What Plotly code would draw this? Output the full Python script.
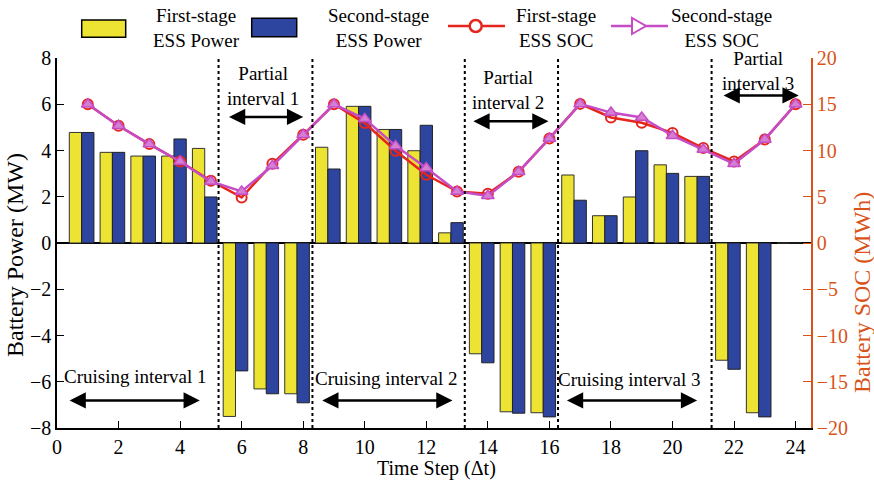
import plotly.graph_objects as go

# ---------------- data ----------------
time_steps = list(range(1, 25))
power_first = [4.78, 3.92, 3.76, 3.76, 4.09, -7.50, -6.31, -6.52, 4.14, 5.91, 4.91, 3.99,
               0.44, -4.79, -7.30, -7.34, 2.94, 1.18, 1.99, 3.38, 2.88, -5.07, -7.34, 0]
power_second = [4.78, 3.92, 3.76, 4.50, 1.99, -5.53, -6.52, -6.91, 3.20, 5.91, 4.91, 5.09,
                0.88, -5.18, -7.36, -7.52, 1.85, 1.18, 3.99, 3.01, 2.88, -5.46, -7.52, 0]
soc_first = [15.0, 12.67, 10.69, 8.81, 6.73, 4.93, 8.56, 11.7, 15.0, 12.96, 9.97, 7.38,
             5.58, 5.32, 7.7, 11.3, 15.04, 13.57, 13.0, 11.9, 10.26, 8.81, 11.2, 15.0]
soc_second = [15.0, 12.67, 10.69, 8.81, 6.65, 5.58, 8.35, 11.7, 15.0, 13.42, 10.5, 8.1,
              5.58, 5.1, 7.7, 11.3, 15.04, 14.1, 13.57, 11.6, 10.1, 8.56, 11.2, 15.0]
x_ticks = list(range(0, 25, 2))
left_ticks = list(range(-8, 9, 2))
right_ticks = list(range(-20, 21, 5))
boundaries = [5.25, 8.3, 13.25, 16.28, 21.27]
partial_labels = ["Partial<br>interval 1", "Partial<br>interval 2", "Partial<br>interval 3"]
cruise_labels = ["Cruising interval 1", "Cruising interval 2", "Cruising interval 3"]
legend_labels = ["First-stage<br>ESS Power", "Second-stage<br>ESS Power",
                 "First-stage<br>ESS SOC", "Second-stage<br>ESS SOC"]

# ---------------- style ----------------
FONT = "Liberation Serif, Times New Roman, serif"
YELLOW = "#ECE332"
BLUE = "#2E45A0"
RED = "#E5261E"
MAGENTA = "#C64CC6"
ORANGE = "#D95319"

W, H = 874, 485
L, R, T, B = 57, 63, 58, 57
PW, PH = W - L - R, H - T - B


def px(x):
    return (x - L) / PW


def py(y):
    return (H - B - y) / PH


fig = go.Figure()

bar_x = [k - 0.2 for k in time_steps]
fig.add_trace(go.Bar(x=bar_x, y=power_first, marker=dict(color=YELLOW, line=dict(color="#333333", width=1)),
                     showlegend=False, name="First-stage ESS Power"))
fig.add_trace(go.Bar(x=bar_x, y=power_second, marker=dict(color=BLUE, line=dict(color="#222222", width=1)),
                     showlegend=False, name="Second-stage ESS Power"))
fig.add_trace(go.Scatter(x=time_steps, y=soc_first, yaxis="y2", mode="lines+markers",
                         line=dict(color=RED, width=2.5),
                         marker=dict(symbol="circle-open", size=10, color=RED, line=dict(width=2)),
                         showlegend=False, name="First-stage ESS SOC"))
fig.add_trace(go.Scatter(x=time_steps, y=soc_second, yaxis="y2", mode="lines+markers",
                         line=dict(color=MAGENTA, width=2.5),
                         marker=dict(symbol="triangle-up", size=11, color="#D47ED4",
                                     line=dict(color=MAGENTA, width=1.5)),
                         showlegend=False, name="Second-stage ESS SOC"))

shapes = []
for b in boundaries:
    shapes.append(dict(type="line", xref="x", yref="paper", x0=b, x1=b, y0=0, y1=1,
                       line=dict(color="black", width=2, dash="dot")))

annotations = []
partial_text_pos = [(6.70, 6.77), (14.67, 6.61), (22.79, 7.42)]
partial_arrows = [(5.54, 8.00, 5.45), (13.48, 15.97, 5.26), (21.61, 24.1, 6.38)]
for lab, (tx, ty) in zip(partial_labels, partial_text_pos):
    annotations.append(dict(x=tx, y=ty, xref="x", yref="y", text=lab, showarrow=False,
                            xanchor="center", yanchor="middle",
                            font=dict(family=FONT, size=19, color="black"), align="center"))
cruise_text_pos = [(2.53, -5.76), (10.68, -5.87), (18.58, -5.90)]
cruise_arrows = [(0.36, 4.64, -6.81), (8.57, 12.85, -6.81), (16.52, 20.8, -6.81)]
for lab, (tx, ty) in zip(cruise_labels, cruise_text_pos):
    annotations.append(dict(x=tx, y=ty, xref="x", yref="y", text=lab, showarrow=False,
                            xanchor="center", yanchor="middle",
                            font=dict(family=FONT, size=19, color="black"), align="center"))
for (x0, x1, yy) in partial_arrows + cruise_arrows:
    annotations.append(dict(x=x1, y=yy, ax=x0, ay=yy, xref="x", yref="y", axref="x", ayref="y",
                            text="", showarrow=True, arrowhead=2, startarrowhead=2,
                            arrowside="end+start", arrowwidth=2.5, arrowsize=1.3,
                            startarrowsize=1.3, arrowcolor="black"))

# axis titles
annotations.append(dict(x=px(15), y=py(255), xref="paper", yref="paper", text="Battery Power (MW)",
                        textangle=-90, showarrow=False, xanchor="center", yanchor="middle",
                        font=dict(family=FONT, size=24, color="black")))
annotations.append(dict(x=px(862), y=py(293), xref="paper", yref="paper", text="Battery SOC (MWh)",
                        textangle=-90, showarrow=False, xanchor="center", yanchor="middle",
                        font=dict(family=FONT, size=24, color=ORANGE)))
annotations.append(dict(x=px(436), y=py(468), xref="paper", yref="paper", text="Time Step (Δt)",
                        showarrow=False, xanchor="center", yanchor="middle",
                        font=dict(family=FONT, size=20, color="black")))

# manual legend
shapes.append(dict(type="rect", xref="paper", yref="paper", x0=px(81.7), x1=px(125.7), y0=py(37.3), y1=py(20),
                   fillcolor=YELLOW, line=dict(color="black", width=1.5)))
shapes.append(dict(type="rect", xref="paper", yref="paper", x0=px(251.7), x1=px(296.7), y0=py(36.7), y1=py(18.3),
                   fillcolor=BLUE, line=dict(color="black", width=1.5)))
shapes.append(dict(type="line", xref="paper", yref="paper", x0=px(448), x1=px(505), y0=py(26), y1=py(26),
                   line=dict(color=RED, width=2.5)))
shapes.append(dict(type="circle", xref="paper", yref="paper", xsizemode="pixel", ysizemode="pixel",
                   xanchor=px(475.7), yanchor=py(26), x0=-6, x1=6, y0=-6, y1=6,
                   fillcolor="white", line=dict(color=RED, width=2.5)))
shapes.append(dict(type="line", xref="paper", yref="paper", x0=px(611), x1=px(668), y0=py(26), y1=py(26),
                   line=dict(color=MAGENTA, width=2.5)))
shapes.append(dict(type="path", xref="paper", yref="paper", xsizemode="pixel", ysizemode="pixel",
                   xanchor=px(638), yanchor=py(26), path="M -6,-8 L 8,0 L -6,8 Z",
                   fillcolor="white", line=dict(color=MAGENTA, width=2)))
legend_centers = [196.7, 378, 556, 721]
for lab, cx in zip(legend_labels, legend_centers):
    annotations.append(dict(x=px(cx), y=py(28), xref="paper", yref="paper", text=lab, showarrow=False,
                            xanchor="center", yanchor="middle",
                            align="center", font=dict(family=FONT, size=19, color="black")))

fig.update_layout(
    width=W, height=H,
    margin=dict(l=L, r=R, t=T, b=B, pad=0),
    paper_bgcolor="white", plot_bgcolor="white",
    barmode="group", bargap=0.2, bargroupgap=0,
    font=dict(family=FONT, size=20, color="black"),
    showlegend=False,
    shapes=shapes, annotations=annotations,
    xaxis=dict(range=[0, 24.5], tickvals=x_ticks, ticks="inside", ticklen=7, tickcolor="black",
               showline=True, linecolor="black", linewidth=1.5, showgrid=False, zeroline=False,
               tickfont=dict(family=FONT, size=20, color="black")),
    yaxis=dict(range=[-8, 8], tickvals=left_ticks, ticks="inside", ticklen=7, tickcolor="black",
               showline=True, linecolor="black", linewidth=1.5, showgrid=False,
               zeroline=True, zerolinecolor="black", zerolinewidth=1.5,
               tickfont=dict(family=FONT, size=20, color="black")),
    yaxis2=dict(range=[-20, 20], tickvals=right_ticks, overlaying="y", side="right", ticks="inside",
                ticklen=8, tickcolor=ORANGE, showline=True, linecolor=ORANGE, linewidth=1.5,
                showgrid=False, zeroline=False,
                tickfont=dict(family=FONT, size=20, color=ORANGE)),
)

fig.write_html("out.html")
